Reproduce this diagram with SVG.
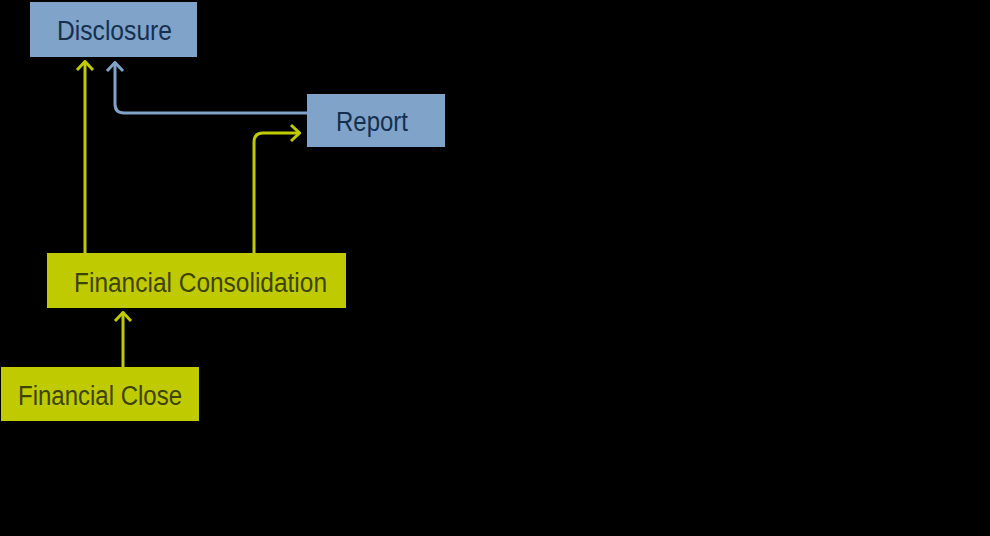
<svg xmlns="http://www.w3.org/2000/svg" width="990" height="536" viewBox="0 0 990 536">
<style>
.bg{fill:#000}
.blue{fill:#7fa3c9}
.green{fill:#bfcb00}
.tb{fill:#15304f;font-family:"Liberation Sans Narrow","Liberation Sans",sans-serif;font-size:27px}
.tg{fill:#3e4300;font-family:"Liberation Sans Narrow","Liberation Sans",sans-serif;font-size:27px}
.cg{fill:none;stroke:#bfcb00;stroke-width:3}
.cb{fill:none;stroke:#7fa3c9;stroke-width:3}
</style>
<defs>
<marker id="ag" viewBox="0 0 12 20" refX="11" refY="10" markerWidth="12" markerHeight="20" markerUnits="userSpaceOnUse" orient="auto">
<path d="M2,2 L10.5,10 L2,18" fill="none" stroke="#bfcb00" stroke-width="3"/>
</marker>
<marker id="ab" viewBox="0 0 12 20" refX="11" refY="10" markerWidth="12" markerHeight="20" markerUnits="userSpaceOnUse" orient="auto">
<path d="M2,2 L10.5,10 L2,18" fill="none" stroke="#7fa3c9" stroke-width="3"/>
</marker>
</defs>
<rect class="bg" x="0" y="0" width="990" height="536"/>
<g id="connectors">
<path class="cg" d="M85,253 V61" marker-end="url(#ag)"/>
<path class="cb" d="M307,113 H124 Q115,113 115,104 V62" marker-end="url(#ab)"/>
<path class="cg" d="M254,253 V142 Q254,133 263,133 H300" marker-end="url(#ag)"/>
<path class="cg" d="M123,367 V312" marker-end="url(#ag)"/>
</g>
<g id="disclosure">
<rect class="blue" x="30" y="2" width="167" height="55"/>
<text class="tb" x="57" y="40" textLength="115" lengthAdjust="spacingAndGlyphs">Disclosure</text>
</g>
<g id="report">
<rect class="blue" x="307" y="94" width="138" height="53"/>
<text class="tb" x="336" y="131" textLength="72" lengthAdjust="spacingAndGlyphs">Report</text>
</g>
<g id="consolidation">
<rect class="green" x="47" y="253" width="299" height="55"/>
<text class="tg" x="74" y="292" textLength="253" lengthAdjust="spacingAndGlyphs">Financial Consolidation</text>
</g>
<g id="close">
<rect class="green" x="1" y="367" width="198" height="54"/>
<text class="tg" x="18" y="405" textLength="164" lengthAdjust="spacingAndGlyphs">Financial Close</text>
</g>
</svg>
